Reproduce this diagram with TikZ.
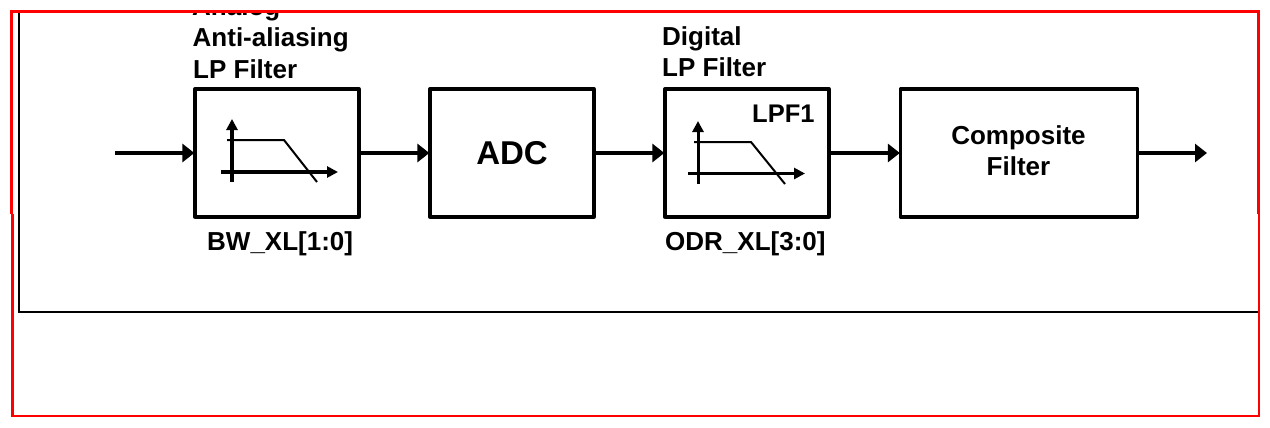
\documentclass[tikz,border=0pt]{standalone}
\usepackage{fontspec}
\setmainfont{Liberation Sans}
\usetikzlibrary{arrows.meta,positioning}
\tikzset{
  x=1pt,y=-1pt,
  blockbox/.style={draw=black,line width=3.3pt,fill=white,minimum height=128pt,inner sep=0pt,line join=round,align=center,font=\fontsize{26}{31}\selectfont\bfseries},
  labeltext/.style={inner sep=0pt,anchor=base west,font=\fontsize{26}{31}\selectfont\bfseries},
  flow/.style={draw=black,line width=4pt,-{Triangle[length=12pt,width=18pt]},shorten >=-1pt},
  axis/.style={draw=black,line width=3.5pt,-{Triangle[length=11pt,width=11pt]}},
  response/.style={draw=black,line width=2pt},
  redframe/.style={draw=red,line width=3pt},
  blackframe/.style={draw=black,line width=2pt}
}
\begin{document}
\begin{tikzpicture}
\useasboundingbox (0,0) rectangle (1270,428);
\fill[white] (0,0) rectangle (1270,428);
% black frame
\coordinate (ftl) at (19,12);
\coordinate (fbl) at (19,312);
\coordinate (fbr) at (1259,312);
\draw[blackframe] (ftl) -- (fbl) -- (fbr);
% blocks
\node[blockbox,minimum width=164pt] (aaf) at (277,153) {};
\node[blockbox,minimum width=164pt,font=\fontsize{33}{38}\selectfont\bfseries] (adc) at (512,153) {ADC};
\node[blockbox,minimum width=164pt] (lpf) at (747,153) {};
\node[blockbox,minimum width=237pt] (comp) at (1019,153) {};
\node[inner sep=0pt,align=center,font=\fontsize{26}{31}\selectfont\bfseries] (compt) at (1018.5,151) {Composite\\Filter};
% connectors
\coordinate (in) at (115,153);
\coordinate (out) at (1207,153);
\draw[flow] (in) -- (aaf.west);
\draw[flow] (aaf.east) -- (adc.west);
\draw[flow] (adc.east) -- (lpf.west);
\draw[flow] (lpf.east) -- (comp.west);
\draw[flow,shorten >=0pt] (comp.east) -- (out);
% mini plot 1
\coordinate (a1b) at (232,182); \coordinate (a1t) at (232,119);
\coordinate (a1l) at (221,172); \coordinate (a1r) at (338,172);
\coordinate (r1a) at (227,140); \coordinate (r1b) at (284,140); \coordinate (r1c) at (317,182);
\draw[axis] (a1b) -- (a1t);
\draw[axis] (a1l) -- (a1r);
\draw[response] (r1a) -- (r1b) -- (r1c);
% mini plot 2
\coordinate (a2b) at (698,184); \coordinate (a2t) at (698,121);
\coordinate (a2l) at (688,173.5); \coordinate (a2r) at (805,173.5);
\coordinate (r2a) at (694,142); \coordinate (r2b) at (751,142); \coordinate (r2c) at (785,184);
\draw[axis,line width=3pt] (a2b) -- (a2t);
\draw[axis,line width=3pt] (a2l) -- (a2r);
\draw[response] (r2a) -- (r2b) -- (r2c);
% labels
\begin{scope}
\clip (0,13) rectangle (1270,428);
\node[labeltext] (t1) at (192,16) {Analog};
\end{scope}
\node[labeltext] (t2) at (192.5,46.5) {Anti-aliasing};
\node[labeltext] (t3) at (193,78) {LP Filter};
\node[labeltext] (t4) at (662,46) {Digital};
\node[labeltext] (t5) at (662,77) {LP Filter};
\node[labeltext,font=\fontsize{25.5}{31}\selectfont\bfseries] (t6) at (752,122) {LPF1};
\node[labeltext] (t7) at (207,250) {BW\_XL[1:0]};
\node[labeltext] (t8) at (665,250) {ODR\_XL[3:0]};
% red frame
\coordinate (r1) at (11.5,214); \coordinate (r2) at (11.5,12); \coordinate (r3) at (1258.5,12); \coordinate (r4) at (1258.5,214);
\coordinate (r5) at (1259,214); \coordinate (r6) at (1259,416); \coordinate (r7) at (12.5,416); \coordinate (r8) at (12.5,214);
\draw[redframe] (r1) -- (r2) -- (r3) -- (r4);
\draw[redframe,line width=2.5pt] (r5) -- (r6) -- (r7) -- (r8);
\end{tikzpicture}
\end{document}
